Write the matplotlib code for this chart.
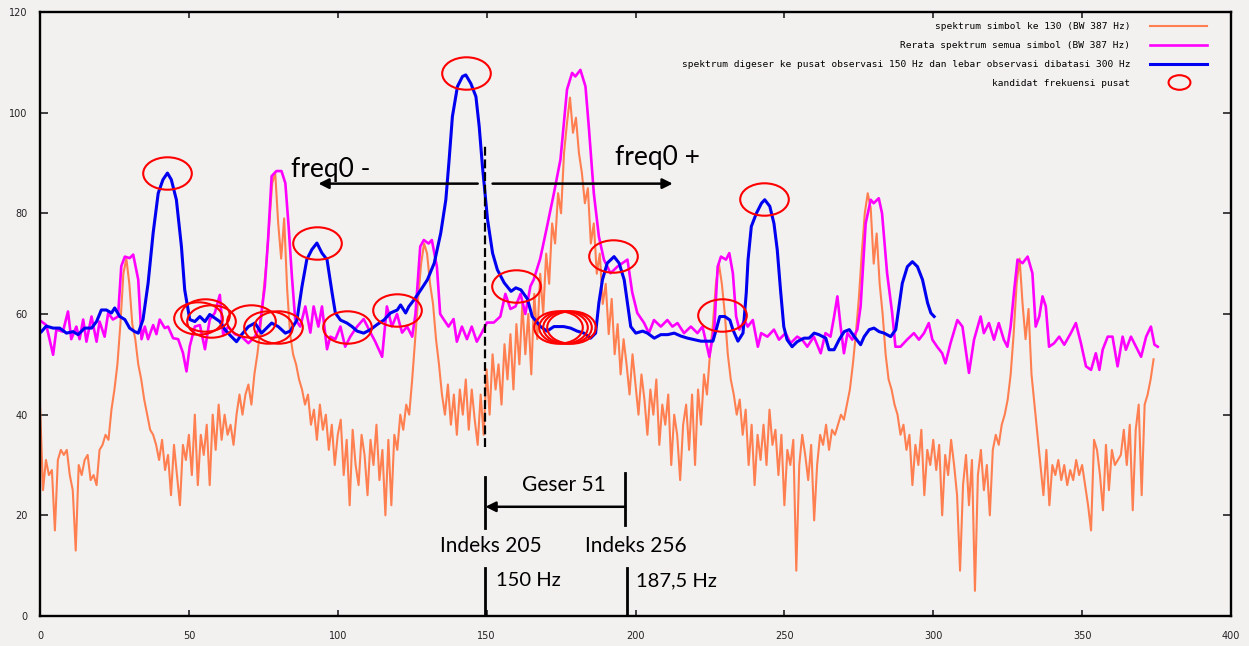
import numpy as np
import matplotlib
matplotlib.use("Agg")
import matplotlib.pyplot as plt
from matplotlib.path import Path
from matplotlib.transforms import Affine2D

# spektrum simbol ke 130 (one value per index, 0..374)
orange_y = [
    42, 25, 31, 28, 29, 17, 31, 33, 32, 33, 28, 25, 13, 30, 28, 31, 32, 27, 28, 26,
    33, 34, 36, 35, 41, 45, 50, 58, 68, 71, 66, 58, 55, 50, 47, 43, 40, 37, 36, 34,
    31, 35, 29, 32, 24, 34, 28, 22, 34, 31, 36, 28, 40, 26, 36, 32, 38, 26, 40, 33,
    42, 35, 40, 36, 38, 34, 40, 44, 40, 44, 46, 42, 48, 52, 57, 64, 70, 78, 86, 88,
    78, 71, 79, 65, 56, 52, 50, 47, 45, 42, 44, 38, 41, 35, 42, 37, 40, 33, 38, 30,
    36, 39, 28, 35, 22, 37, 30, 26, 36, 32, 24, 35, 30, 38, 27, 33, 20, 35, 22, 36,
    33, 40, 37, 42, 40, 47, 55, 63, 70, 74, 72, 66, 62, 55, 50, 44, 40, 46, 38, 44,
    36, 45, 40, 47, 37, 45, 39, 34, 44, 36, 49, 40, 52, 45, 50, 42, 54, 47, 56, 45,
    58, 50, 62, 52, 60, 48, 64, 55, 68, 60, 72, 66, 78, 74, 84, 80, 92, 98, 103, 96,
    99, 92, 88, 82, 85, 74, 78, 68, 72, 62, 66, 56, 63, 52, 58, 48, 55, 50, 44, 52,
    46, 40, 48, 43, 36, 45, 40, 47, 34, 42, 38, 44, 30, 40, 36, 27, 38, 42, 33, 44,
    30, 45, 38, 48, 44, 52, 58, 66, 70, 66, 60, 52, 47, 44, 40, 43, 36, 41, 30, 38,
    26, 36, 31, 38, 30, 41, 34, 37, 28, 36, 22, 33, 30, 35, 9, 30, 36, 32, 27, 34,
    19, 30, 36, 34, 38, 33, 37, 36, 38, 40, 39, 42, 45, 50, 56, 63, 72, 80, 84, 81,
    70, 76, 66, 60, 52, 47, 45, 42, 40, 36, 38, 33, 36, 26, 34, 30, 37, 24, 33, 30,
    35, 29, 34, 20, 32, 28, 35, 30, 24, 9, 26, 32, 22, 31, 5, 28, 33, 25, 30, 20,
    33, 36, 34, 38, 40, 43, 48, 56, 66, 71, 62, 55, 61, 48, 42, 36, 30, 24, 33, 22,
    30, 28, 31, 27, 30, 26, 29, 27, 31, 28, 30, 26, 22, 17, 35, 33, 28, 21, 34, 25,
    33, 30, 31, 32, 37, 30, 38, 21, 37, 42, 24, 42, 44, 47, 51,
]
orange_x = np.arange(len(orange_y))

# rerata spektrum semua simbol
magenta_x = [
    0.5, 2.1, 4.4, 5.5, 7.7, 9.4, 10.5, 12.2, 13.3, 14.5, 15.6, 17.3, 19, 20, 21.7,
    22.9, 24.5, 26.2, 27.3, 28.5, 30.1, 31.3, 33, 34.1, 35.2, 36.3, 38, 39.1, 40.2,
    41.9, 43, 44.7, 46.4, 48, 49.2, 50.3, 52, 53.7, 55.4, 57, 58.7, 60.4, 61.5, 63.2,
    65.4, 67.7, 70, 72.2, 73.8, 75.5, 76.6, 77.8, 79.4, 81.1, 82.4, 83.5, 84.6, 85.7,
    87.4, 89.1, 90.8, 91.9, 93.5, 94.7, 96.4, 97.5, 99.2, 100.9, 102.5, 104.2, 106.5,
    108.7, 111, 112.6, 114.9, 116.5, 118.2, 119.9, 121.6, 123.3, 125, 126.1, 127.7,
    128.9, 130.5, 131.6, 133.3, 134.4, 135.5, 137.2, 138.9, 140, 141.7, 143.4, 145,
    146.7, 148.4, 150.1, 152.4, 154.6, 156.3, 158, 159.7, 161.4, 163, 164.7, 165.8,
    168, 170.3, 172.6, 174.8, 177, 178.7, 179.8, 181.5, 183.2, 184.3, 186, 187.7,
    189.4, 191.6, 193.9, 197.3, 198.9, 200.6, 202.9, 204.5, 206.2, 208.5, 210.7,
    212.4, 214.1, 216.3, 218.6, 220.8, 222.5, 224.8, 226.5, 227.6, 228.7, 230.4,
    231.5, 232.7, 233.8, 234.9, 236.6, 237.7, 239.4, 241.1, 242.2, 244.3, 246.5,
    248.2, 250.4, 252.1, 254.3, 256, 257.7, 259.9, 262.2, 263.8, 265.5, 266.7, 267.8,
    268.9, 270, 271.2, 272.8, 274.5, 275.6, 277.3, 279, 280, 281.7, 282.8, 284.5,
    286.2, 287.3, 289, 291.2, 293.5, 295.2, 296.9, 298.5, 299.7, 301.3, 303, 304.1,
    305.8, 308.1, 309.8, 312, 313.7, 315.9, 317, 318.7, 320.4, 322, 323.7, 324.9, 326,
    327.2, 328.3, 330, 331.7, 333.3, 334.4, 335.6, 336.7, 337.8, 338.9, 340.6, 342.3,
    344, 346.2, 347.9, 349.6, 351.3, 353, 354.6, 355.8, 356.9, 358.6, 360.2, 361.9,
    363.6, 364.7, 366.4, 368.1, 369.8, 371.5, 373.1, 374.3, 375.4,
]
magenta_y = [
    58.5, 57.8, 51.9, 56.9, 56.5, 60.5, 55, 57.5, 55, 58.9, 54.5, 59.5, 54.5, 58.5, 55.5,
    60.2, 58.9, 59.5, 69.5, 71.4, 71.1, 71.8, 66.8, 55, 57.5, 55, 57.8, 56, 58.9,
    57.2, 57.5, 55.2, 55, 52.3, 48.6, 53.6, 57.5, 57.8, 53, 58.9, 60.2, 63.8, 56, 57.5,
    56, 55.5, 54.2, 55.5, 57.5, 65.5, 74.8, 87.4, 88.4, 88.4, 86, 77.4, 67.5, 59,
    57.5, 61.5, 56.3, 61.5, 57.5, 61.5, 53, 55.5, 55, 57.5, 53.5, 55.5, 57.5,
    59, 56.3, 54.5, 51.5, 61.5, 57.5, 60, 56.3, 57.5, 55.5, 60, 73.4,
    74.7, 74, 74.7, 69.4, 60, 59, 57.5, 59, 54.5, 57.5, 55, 57.5,
    54.5, 56.3, 58.3, 58.3, 59.5, 64, 61, 61.5, 64, 60, 65.5, 66.8,
    71, 77.4, 84, 90.7, 104.6, 107.9, 107.2, 108.5, 105.2, 97.3, 84, 75.4,
    70.8, 68.1, 69.4, 70.8, 64.3, 60.2, 58.2, 56.2, 58.8, 57.5, 58.8,
    57.5, 58.2, 56.2, 57.5, 56.2, 57.5, 51.5, 57.5, 69.4, 71.4, 70.8,
    72.1, 68.1, 59.5, 56.9, 58.8, 57.5, 58.8, 53.5, 56.2, 55.5, 56.9,
    54.9, 56.2, 54.2, 55.5, 54.9, 53.5, 55.5, 52.2, 56.2, 55.5, 59.5, 63.5,
    57.5, 52.2, 56.2, 54.9, 56.9, 61.5, 78, 82.7, 82, 83, 80, 68.1,
    60.2, 53.5, 53.5, 54.9, 56.2, 54.9, 56.2, 58.2, 54.9, 53.5, 52.2, 50.2,
    54.2, 58.8, 57.5, 48.3, 54.9, 59.5, 56.2, 58.2, 54.9, 58.2, 54.9, 53.5, 57.5,
    64.8, 70.8, 70.1, 71.4, 68.1, 57.5, 59.5, 63.5, 61.5, 53.5, 54.2, 55.5,
    53.9, 56.2, 58.2, 54.2, 49.6, 48.9, 52.2, 48.9, 52.9, 55.5, 55.5, 49.6,
    55.5, 52.9, 55.5, 53.5, 51.5, 55.5, 57.5, 53.9, 53.5,
]

# spektrum digeser ke pusat observasi 150 Hz
blue_x = [
    0.5, 2.1, 4.4, 6.6, 8.9, 11.1, 12.8, 15, 17.3, 19, 20.6, 22.3, 24, 25.1, 26.8,
    28.5, 30.1, 31.8, 33, 34.6, 36.3, 38, 39.7, 41.3, 42.8, 44.1, 45.8, 47.5, 48.6,
    50.3, 52, 53.7, 55.4, 57, 58.7, 60.4, 62.1, 64.3, 66, 67.7, 70, 72.2, 74.4, 76.1,
    77.8, 80, 82.4, 84, 86.3, 88, 89.6, 91.3, 93, 94.7, 96.4, 98.1, 99.2, 100.9,
    103.1, 104.8, 106.5, 108.7, 111, 113.2, 115.5, 117.7, 120, 121.1, 122.8, 123.9,
    125.6, 127.9, 130.1, 132.4, 134.6, 136.3, 137.4, 138.5, 140.2, 141.9, 143, 144.7,
    146.4, 147.5, 148.6, 150.3, 152, 153.6, 155.9, 158.2, 159.8, 161.5, 163.7, 165.3,
    168.1, 170.3, 172.6, 175.9, 178.2, 180.4, 182.7, 184.9, 186.6, 187.7, 188.9,
    190.5, 192.8, 194.5, 196.2, 197.3, 198.4, 200.1, 202.4, 204, 206.3, 208.5, 210.8,
    213, 215.3, 217.5, 219.8, 222, 224.3, 226, 227.1, 228.3, 230, 231.7, 232.7, 234.4,
    236.1, 237.2, 237.8, 238.9, 240.6, 242.3, 243.4, 245.1, 246.5, 247.6, 248.7,
    249.8, 250.9, 252.6, 254.3, 256.6, 258.3, 260, 261.6, 263.9, 265, 266.7, 268.4,
    270.1, 271.8, 273.5, 275.6, 276.8, 278.5, 280.1, 281.8, 283.5, 285.7, 287.4,
    288.5, 289.6, 291.3, 293, 294.7, 296.4, 298.1, 299.2, 300.3,
]
blue_y = [
    56.5, 57.6, 57.2, 57.2, 56.2, 56.5, 55.9, 57.2, 57.2, 58.5, 60.8, 60.8, 60.2, 61.2, 59.5,
    58.9, 57.2, 56.5, 56.2, 58.9, 66.1, 76.1, 84, 86.7, 88, 86.7, 82.7, 73.4, 64.8,
    58.9, 58.5, 59.5, 58.5, 59.9, 59.2, 58.5, 56.9, 55.5, 54.5, 55.9, 57.5, 58.2, 56.2, 57.2,
    58.2, 57.5, 56.2, 56.6, 58.8, 65.5, 70.8, 72.8, 74.1, 72.1, 70.8, 64.2, 60.2, 58.8,
    58.2, 57.5, 56.6, 56.2, 56.9, 57.9, 58.8, 60.2, 60.8, 61.8, 60.2, 61.5,
    62.8, 64.8, 66.8, 70.1, 76.1, 82.7, 90.6, 99.2, 105.2, 107.2, 107.5, 105.8,
    103.2, 97.3, 89.3, 78.8, 72.1, 68.8, 66.2, 64.5, 65.2, 64.8, 63, 59.5,
    57.5, 56.6, 57.5, 57.5, 57.2, 56.6, 56.2, 55.2, 56.2, 62.2, 66.8,
    70.1, 71.4, 70.1, 66.8, 62.2, 57.5, 56.2, 56.6, 56.2, 55.2, 55.9, 55.9,
    56.2, 55.6, 55.2, 54.9, 54.6, 54.6, 54.6, 56.9, 59.5, 59.5, 58.8, 56.9, 54.6,
    56.2, 64.2, 70.8, 77.4, 80, 82, 82.7, 81.4, 78, 72.8, 64.8,
    57.5, 54.9, 53.5, 54.5, 55.2, 55.2, 56.2, 55.9, 55.2, 52.9, 52.9, 54.9,
    56.5, 56.9, 55.5, 53.9, 55.5, 56.9, 57.2, 56.5, 56.2, 55.5, 56.9,
    61.5, 66.1, 69.4, 70.4, 69.4, 66.8, 62.2, 60.2, 59.5,
]

# kandidat frekuensi pusat
cand_x = [42.5, 53, 55.5, 57.5, 71, 76.5, 80, 93, 103, 120, 143, 160,
          174, 175.5, 177, 178.5, 192.5, 229, 243]
cand_y = [88, 59.2, 59.8, 58.6, 58.6, 57.5, 57.4, 74.2, 57.5, 60.8, 107.8, 65.6,
          57.5, 57.5, 57.5, 57.5, 71.6, 59.8, 82.8]

labels = [
    "spektrum simbol ke 130 (BW 387 Hz)",
    "Rerata spektrum semua simbol (BW 387 Hz)",
    "spektrum digeser ke pusat observasi 150 Hz dan lebar observasi dibatasi 300 Hz",
    "kandidat frekuensi pusat",
]

bg = "#f2f1f0"
txt_font = ["Lato", "DejaVu Sans"]

fig = plt.figure(figsize=(12.49, 6.46), dpi=100, facecolor=bg)
ax = fig.add_axes([40 / 1249, 30 / 646, 1191 / 1249, 604 / 646])
ax.set_facecolor(bg)

ax.plot(orange_x, orange_y, color="#ff7f50", lw=1.5, label=labels[0])
ax.plot(magenta_x, magenta_y, color="#ff00ff", lw=1.9, label=labels[1])
ax.plot(blue_x, blue_y, color="#0000f0", lw=2.2, label=labels[2])

ellipse = Affine2D().scale(1.5, 1.0).transform_path(Path.unit_circle())
ax.plot(cand_x, cand_y, ls="none", marker=ellipse, ms=35, mfc="none",
        mec="#ff0000", mew=1.5, label=labels[3])

# annotations
arrow = dict(arrowstyle="-|>", color="k", lw=1.8, mutation_scale=15, shrinkA=0, shrinkB=0)
ax.plot([149.6, 149.6], [33.6, 93.6], color="k", lw=1.6, ls=(0, (4, 1.7)))
ax.annotate("", xy=(93.5, 85.9), xytext=(147, 85.9), arrowprops=arrow)
ax.annotate("", xy=(212.5, 85.9), xytext=(152, 85.9), arrowprops=arrow)
ax.text(84.4, 87.3, "freq0 -", fontsize=19, family=txt_font, va="baseline")
ax.text(193, 89.7, "freq0 +", fontsize=19, family=txt_font, va="baseline")

ax.plot([149.6, 149.6], [17.5, 27.6], color="k", lw=2)
ax.plot([196.6, 196.6], [18.1, 28.4], color="k", lw=2)
ax.annotate("", xy=(149.6, 21.7), xytext=(196.6, 21.7), arrowprops=arrow)
ax.text(176, 24.9, "Geser 51", fontsize=15, family=txt_font, ha="center", va="baseline")
ax.text(151.4, 12.7, "Indeks 205", fontsize=15, family=txt_font, ha="center", va="baseline")
ax.text(200, 12.7, "Indeks 256", fontsize=15, family=txt_font, ha="center", va="baseline")
ax.plot([149.6, 149.6], [0, 9.5], color="k", lw=2)
ax.plot([197, 197], [0, 9.5], color="k", lw=2)
ax.text(153.3, 6, "150 Hz", fontsize=14.5, family=txt_font, va="baseline")
ax.text(200.3, 5.8, "187,5 Hz", fontsize=14.5, family=txt_font, va="baseline")

ax.set_xlim(0, 400)
ax.set_ylim(0, 120)
ax.set_xticks(range(0, 401, 50))
ax.set_yticks(range(0, 121, 20))
for s in ax.spines.values():
    s.set_linewidth(1.7)
ax.tick_params(direction="in", top=True, right=True, labelsize=7, colors="#222222", width=1.2)
ax.tick_params(axis="x", length=4, pad=11)
ax.tick_params(axis="y", length=6, pad=9)

ax.legend(loc="upper right", bbox_to_anchor=(1207 / 1249, 1 - 22 / 646),
          bbox_transform=fig.transFigure, frameon=False, markerfirst=False,
          prop={"family": "DejaVu Sans Mono", "size": 6.8}, handlelength=6,
          handletextpad=2.1, labelspacing=1.05, markerscale=0.45,
          borderpad=0, borderaxespad=0)

fig.savefig("out.png", dpi=100, facecolor=bg)
